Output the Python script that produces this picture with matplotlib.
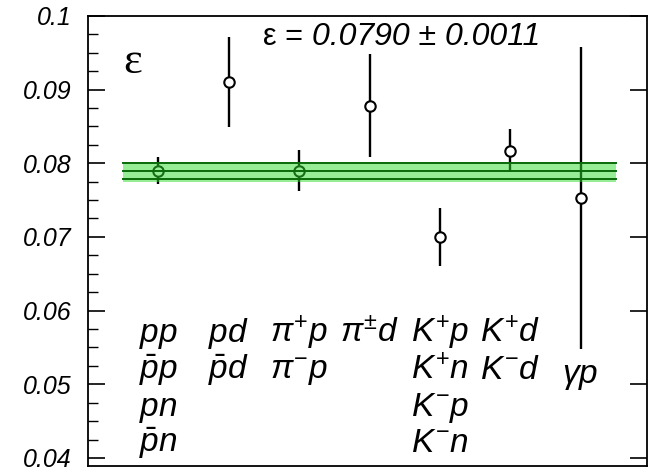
import matplotlib
matplotlib.use("Agg")
from matplotlib import pyplot as plt
from matplotlib.ticker import MultipleLocator

plt.rcParams['font.family'] = ['Liberation Sans', 'DejaVu Sans']
plt.rcParams['mathtext.fontset'] = 'custom'
plt.rcParams['mathtext.rm'] = 'Liberation Sans'
plt.rcParams['mathtext.it'] = 'Liberation Sans:italic'
plt.rcParams['mathtext.bf'] = 'Liberation Sans:bold'

# measured epsilon per reaction group
positions = [1, 2, 3, 4, 5, 6, 7]
eps_vals = [0.0790, 0.0910, 0.0790, 0.0878, 0.0700, 0.0817, 0.0753]
eps_errs = [0.0018, 0.0061, 0.0028, 0.0070, 0.0039, 0.0029, 0.0205]

# fitted mean
eps_mean = 0.0790
eps_mean_err = 0.0011

# reaction labels, one list per column (rows from top)
col_labels = [
    [r'$pp$', r'$\bar{p}p$', r'$pn$', r'$\bar{p}n$'],
    [r'$pd$', r'$\bar{p}d$'],
    [r'$\pi^{+}p$', r'$\pi^{-}p$'],
    [r'$\pi^{\pm}d$'],
    [r'$K^{+}p$', r'$K^{+}n$', r'$K^{-}p$', r'$K^{-}n$'],
    [r'$K^{+}d$', r'$K^{-}d$'],
    [r'$\gamma p$'],
]
row_baselines = [0.0557, 0.0507, 0.0457, 0.0408]

fig = plt.figure(figsize=(6.48, 4.67), dpi=100)
ax = fig.add_axes([0.136, 0.002, 0.862, 0.964])

ax.errorbar(positions, eps_vals, yerr=eps_errs, fmt='o', color='black',
            mfc='white', mec='black', ms=7.5, mew=1.5, elinewidth=1.7,
            capsize=0, zorder=2)

# fit band
ax.fill_between([0.49, 7.5], eps_mean - 0.0016, eps_mean + 0.0012,
                color='#2fdc2f', alpha=0.5, lw=0, zorder=3)
for off in (-eps_mean_err, 0, eps_mean_err):
    ax.plot([0.49, 7.5], [eps_mean + off] * 2, color='#0a6a0a', lw=1.4, zorder=4)

for i, labels in enumerate(col_labels):
    for j, lab in enumerate(labels):
        yb = row_baselines[j]
        if i == 6:
            yb = 0.0502
        ax.text(positions[i], yb, lab, ha='center', va='baseline', fontsize=24)

ax.text(0.50, 0.0923, 'ε', fontsize=32, family='Liberation Serif', va='baseline')
t1 = ax.text(2.49, 0.0961, 'ε = ', fontsize=22, va='baseline')
ax.annotate('0.0790 ± 0.0011', xy=(1, 0), xycoords=t1, fontsize=23,
            fontstyle='italic', va='bottom', ha='left')

ax.set_xlim(0, 7.94)
ax.set_ylim(0.0389, 0.1)
ax.set_xticks([])
ax.yaxis.set_major_locator(MultipleLocator(0.01))
ax.yaxis.set_minor_locator(MultipleLocator(0.0025))
ax.set_yticks([0.04, 0.05, 0.06, 0.07, 0.08, 0.09, 0.1])
ax.set_yticklabels(['0.04', '0.05', '0.06', '0.07', '0.08', '0.09', '0.1'],
                   fontstyle='italic', fontsize=18)
ax.tick_params(axis='y', which='major', direction='in', length=12, width=1.2,
               right=True, pad=12)
ax.tick_params(axis='y', which='minor', direction='in', length=7, width=1.0,
               right=False)
for s in ax.spines.values():
    s.set_linewidth(1.3)

fig.savefig('out.png', dpi=100)
